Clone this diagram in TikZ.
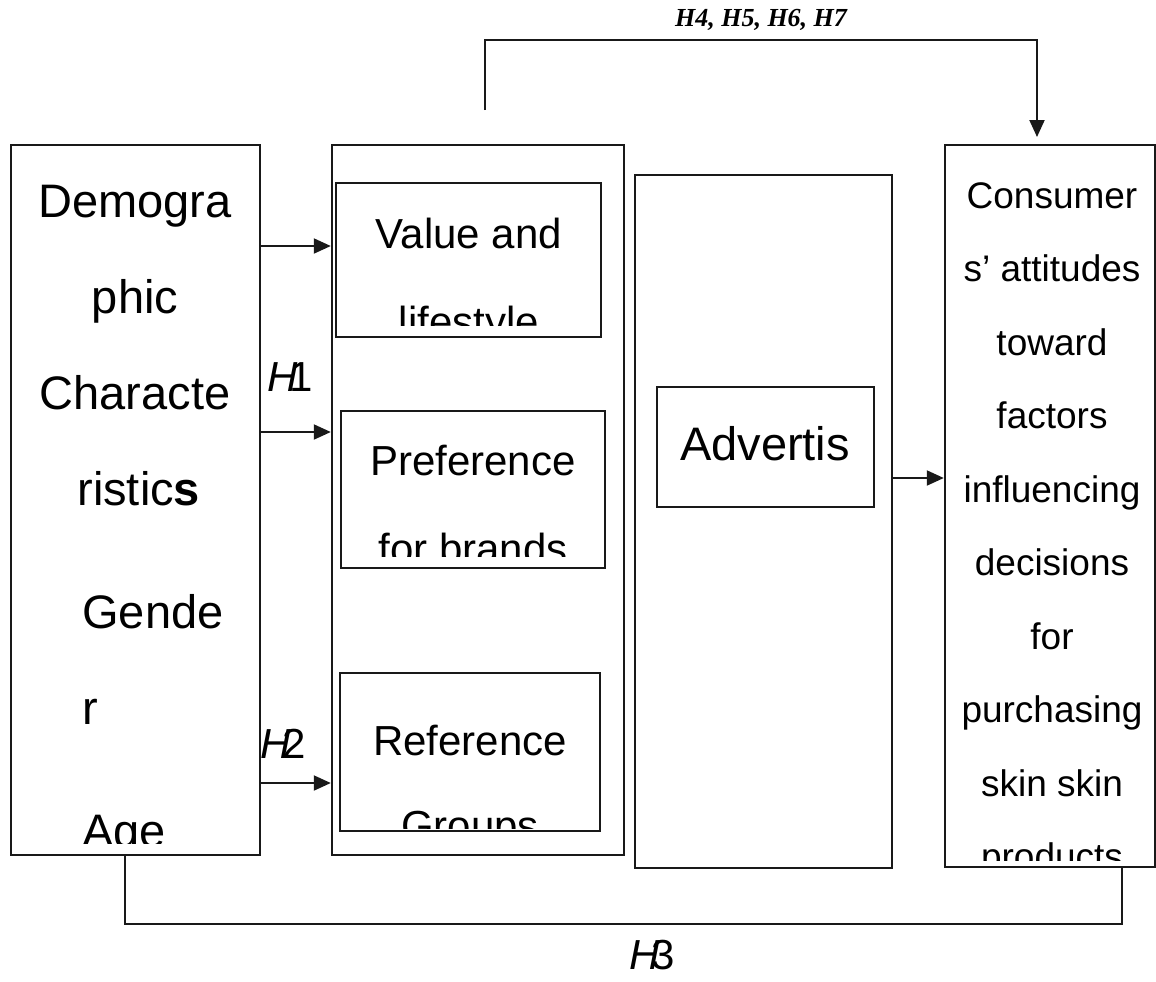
\documentclass[tikz,border=0pt]{standalone}
\usepackage{fontspec}
\setsansfont{Liberation Sans}
\newfontfamily\labelserif{Liberation Serif}
\usetikzlibrary{arrows.meta, fit}

\begin{document}
\begin{tikzpicture}[
  x=0.5pt, y=-0.5pt,
  >={Triangle[length=8.5pt,width=7.5pt]},
  box/.style={rectangle, draw=black!90, line width=1.2pt, inner sep=0pt},
  big/.style={font=\sffamily\fontsize{23.5}{28}\selectfont, inner sep=0pt, anchor=base},
  mid/.style={font=\sffamily\fontsize{21}{25}\selectfont, inner sep=0pt, anchor=base},
  small/.style={font=\sffamily\fontsize{18.5}{22}\selectfont, inner sep=0pt, anchor=base},
  hyp/.style={font=\sffamily\fontsize{21}{25}\selectfont, inner sep=0pt},
  arr/.style={->, draw=black!90, line width=1pt},
  link/.style={draw=black!90, line width=1pt},
]
\useasboundingbox (0,0) rectangle (1156,981);

% --- Boxes ---
\node[box, fit={(11,145) (260,855)}] (DEM) {};
\node[box, fit={(332,145) (624,855)}] (MID) {};
\node[box, fit={(336,183) (601,337)}] (VAL) {};
\node[box, fit={(341,411) (605,568)}] (PREF) {};
\node[box, fit={(340,673) (600,831)}] (REF) {};
\node[box, fit={(635,175) (892,868)}] (ADVO) {};
\node[box, fit={(657,387) (874,507)}] (ADV) {};
\node[box, fit={(945,145) (1155,867)}] (CONS) {};

% --- Texts (cut off by the boxes) ---
\begin{scope}
  \clip (11,145) rectangle (260,843);
  \node[big] (dem1) at (135,217) {Demogra};
  \node[big] (dem2) at (135,313) {phic};
  \node[big] (dem3) at (135,409) {Characte};
  \node[big, anchor=base west] (dem4) at (77,505) {ristic\textbf{s}};
  \node[big, anchor=base west] (dem5) at (82,628) {Gende};
  \node[big, anchor=base west] (dem6) at (82,724) {r};
  \node[big, anchor=base west] (dem7) at (82,847) {Age};
\end{scope}

\begin{scope}
  \clip (336,183) rectangle (601,325);
  \node[mid] (val1) at (469,248) {Value and};
  \node[mid] (val2) at (469,336) {lifestyle};
\end{scope}

\begin{scope}
  \clip (341,411) rectangle (605,556);
  \node[mid] (pref1) at (473,475) {Preference};
  \node[mid] (pref2) at (473,563) {for brands};
\end{scope}

\begin{scope}
  \clip (340,673) rectangle (600,828);
  \node[mid] (ref1) at (470,755) {Reference};
  \node[mid] (ref2) at (470,840) {Groups};
\end{scope}

\node[big] (adv1) at (765,460) {Advertis};

\begin{scope}
  \clip (945,145) rectangle (1155,860);
  \foreach \word [count=\i] in {Consumer, s’ attitudes, toward, factors,
      influencing, decisions, for, purchasing, skin skin, products}
    \node[small] (cons\i) at (1052,{208+73.5*(\i-1)}) {\word};
\end{scope}

% --- Hypothesis labels ---
\node[hyp] (H1) at (290,377) {\textit{H}\kern-0.2em1};
\node[hyp] (H2) at (283,744) {\textit{H}\kern-0.2em2};
\node[hyp] (H3) at (652,955) {\textit{H}\kern-0.2em3};

% --- Arrows ---
\draw[arr] (DEM.east |- 0,246) -- (MID.west |- 0,246);
\draw[arr] (DEM.east |- 0,432) -- (MID.west |- 0,432);
\draw[arr] (DEM.east |- 0,783) -- (MID.west |- 0,783);
\draw[arr] (ADVO.east |- 0,478) -- (CONS.west |- 0,478);

% --- Top link ---
\coordinate (top1) at (485,110);
\coordinate (top2) at (1037,137);
\draw[arr] (top1) -- ++(0,-70) -| node[pos=0.25, above=1pt, font=\labelserif\fontsize{13}{15}\selectfont\bfseries\itshape] (H47) {H4, H5, H6, H7} (top2);

% --- Bottom link ---
\coordinate (bot1) at (125,855);
\coordinate (bot2) at (1122,867);
\draw[link] (bot1) -- (125,924) -| (bot2);

\end{tikzpicture}
\end{document}
